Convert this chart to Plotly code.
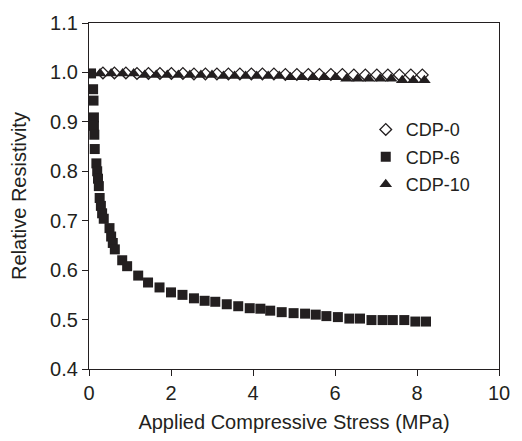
import plotly.graph_objects as go

# ---- data ----
cdp0_x = [0.34, 0.62, 0.90, 1.17, 1.45, 1.73, 2.01, 2.29, 2.56, 2.84, 3.12, 3.40, 3.68, 3.96, 4.23,
          4.51, 4.79, 5.07, 5.35, 5.62, 5.90, 6.18, 6.46, 6.74, 7.02, 7.29, 7.57, 7.85, 8.13]
cdp0_y = [0.999, 0.999, 0.999, 0.998, 0.998, 0.998, 0.998, 0.998, 0.997, 0.997, 0.997, 0.997, 0.997, 0.997, 0.997,
          0.997, 0.996, 0.996, 0.996, 0.996, 0.996, 0.996, 0.995, 0.995, 0.995, 0.995, 0.995, 0.995, 0.995]

cdp6_x = [0.05, 0.10, 0.11, 0.12, 0.12, 0.13, 0.14, 0.18, 0.20, 0.22, 0.24, 0.26, 0.29, 0.32, 0.36,
          0.50, 0.54, 0.58, 0.63, 0.81, 0.93, 1.20, 1.44, 1.72, 2.00, 2.28, 2.56, 2.82, 3.08, 3.36,
          3.64, 3.92, 4.18, 4.42, 4.70, 4.99, 5.27, 5.53, 5.79, 6.07, 6.35, 6.61, 6.89, 7.16, 7.41,
          7.69, 7.96, 8.22]
cdp6_y = [0.998, 0.966, 0.943, 0.909, 0.892, 0.874, 0.845, 0.816, 0.800, 0.785, 0.770, 0.746, 0.730, 0.715, 0.704,
          0.685, 0.668, 0.655, 0.642, 0.620, 0.608, 0.589, 0.575, 0.565, 0.555, 0.550, 0.543, 0.538, 0.536, 0.531,
          0.527, 0.523, 0.522, 0.518, 0.515, 0.513, 0.512, 0.510, 0.507, 0.505, 0.502, 0.502, 0.499, 0.499, 0.499,
          0.499, 0.496, 0.496]

cdp10_x = [0.27, 0.54, 0.82, 1.09, 1.36, 1.64, 1.91, 2.18, 2.46, 2.73, 3.00, 3.28, 3.55, 3.82, 4.09,
           4.37, 4.64, 4.91, 5.19, 5.46, 5.73, 6.01, 6.28, 6.55, 6.82, 7.10, 7.37, 7.64, 7.91, 8.18]
cdp10_y = [0.998, 0.998, 0.998, 0.998, 0.995, 0.995, 0.995, 0.995, 0.995, 0.995, 0.995, 0.993, 0.993, 0.993, 0.993,
           0.993, 0.993, 0.990, 0.990, 0.990, 0.990, 0.990, 0.987, 0.987, 0.987, 0.987, 0.987, 0.984, 0.984, 0.984]

x_ticks = [0, 2, 4, 6, 8, 10]
y_ticks = [0.4, 0.5, 0.6, 0.7, 0.8, 0.9, 1.0, 1.1]
y_tick_text = ["0.4", "0.5", "0.6", "0.7", "0.8", "0.9", "1.0", "1.1"]

ink = "#231f20"
font = "Liberation Sans, Arial, Helvetica, sans-serif"

fig = go.Figure()
# drawing order: triangles, squares, then open diamonds on top
fig.add_trace(go.Scatter(x=cdp10_x, y=cdp10_y, mode="markers", name="CDP-10", legendgroup="c", legendrank=3,
                         marker=dict(symbol="triangle-up", size=11, color=ink, line=dict(width=0))))
fig.add_trace(go.Scatter(x=cdp6_x, y=cdp6_y, mode="markers", name="CDP-6", legendgroup="b", legendrank=2,
                         marker=dict(symbol="square", size=10, color=ink, line=dict(width=0))))
fig.add_trace(go.Scatter(x=cdp0_x, y=cdp0_y, mode="markers", name="CDP-0", legendgroup="a", legendrank=1,
                         marker=dict(symbol="diamond-open", size=9, color=ink, line=dict(width=1.3, color=ink))))

axis_common = dict(showgrid=False, zeroline=False, showline=True, linecolor=ink, linewidth=1.3,
                   mirror=True, ticks="outside", ticklen=6, tickwidth=1.3, tickcolor=ink,
                   tickfont=dict(family=font, size=20, color=ink),
                   title_font=dict(family=font, size=20, color=ink))

fig.update_xaxes(range=[0, 10], tickvals=x_ticks, title_text="Applied Compressive Stress (MPa)",
                 title_standoff=11, **axis_common)
fig.update_yaxes(range=[0.4, 1.1], tickvals=y_ticks, ticktext=y_tick_text, title_text="Relative Resistivity",
                 title_standoff=18, **axis_common)

fig.update_layout(
    width=522, height=441,
    margin=dict(l=89, r=16, t=16, b=65),
    paper_bgcolor="white", plot_bgcolor="white",
    showlegend=True,
    legend=dict(x=0.675, y=0.745, xanchor="left", yanchor="top", traceorder="grouped",
                tracegroupgap=1, bgcolor="rgba(0,0,0,0)",
                font=dict(family=font, size=18, color=ink)),
)

fig.write_html("out.html")
